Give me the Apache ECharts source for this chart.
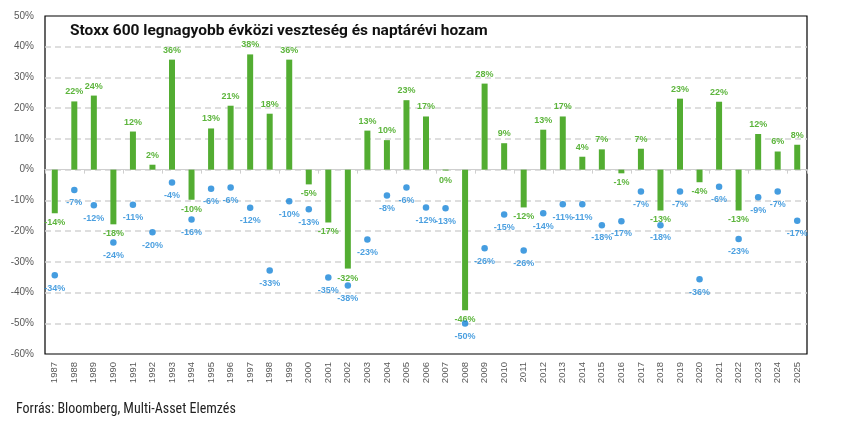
<!DOCTYPE html>
<html>
<head>
<meta charset="utf-8">
<script src="https://cdn.jsdelivr.net/npm/echarts@6/dist/echarts.min.js"></script>
<style>
html,body{margin:0;padding:0;background:#fff;}
#main{width:846px;height:427px;}
</style>
</head>
<body>
<div id="main"></div>
<script>
var years = ['1987','1988','1989','1990','1991','1992','1993','1994','1995','1996','1997','1998','1999','2000','2001','2002','2003','2004','2005','2006','2007','2008','2009','2010','2011','2012','2013','2014','2015','2016','2017','2018','2019','2020','2021','2022','2023','2024','2025'];
// calendar-year return (%)
var calendarReturn = [-14.2,22.2,24.1,-17.8,12.4,1.6,35.8,-9.8,13.4,20.8,37.5,18.2,35.8,-4.8,-17.2,-32.2,12.7,9.6,22.6,17.3,-0.3,-45.8,28.0,8.6,-12.3,13.0,17.3,4.2,6.6,-1.2,6.8,-13.3,23.1,-4.1,22.1,-13.3,11.6,5.9,8.1];
// largest intra-year drawdown (%)
var maxDrawdown = [-34.4,-6.6,-11.6,-23.7,-11.4,-20.4,-4.2,-16.2,-6.2,-5.8,-12.4,-32.8,-10.3,-12.9,-35.1,-37.7,-22.7,-8.4,-5.8,-12.3,-12.6,-50.1,-25.6,-14.6,-26.3,-14.2,-11.3,-11.3,-18.1,-16.8,-7.1,-18.1,-7.1,-35.7,-5.6,-22.6,-9.0,-7.1,-16.6];
var yTicks = {min:-60, max:50, interval:10};

var titleText = 'Stoxx 600 legnagyobb évközi veszteség és naptárévi hozam';
var sourceText = 'Forrás: Bloomberg, Multi-Asset Elemzés';

var chart = echarts.init(document.getElementById('main'), null, {renderer:'canvas'});
var pct = function(v){ return Math.round(v) + '%'; };

var barData = calendarReturn.map(function(v){
  return {value: v, label: {position: v >= 0 ? 'top' : 'bottom'}};
});

var option = {
  animation: false,
  backgroundColor: '#fff',
  textStyle: {fontFamily: 'Liberation Sans, Arial, sans-serif'},
  title: [{
    text: titleText,
    left: 65, top: 18, padding: 5,
    textStyle: {fontSize: 15.5, fontWeight: 'bold', color: '#111', fontFamily: 'Roboto, sans-serif'}
  },{
    text: sourceText,
    left: 11, top: 397, padding: 5,
    textStyle: {fontSize: 14, fontWeight: 'normal', color: '#222', fontFamily: 'Liberation Sans Narrow, Roboto Condensed, Liberation Sans, sans-serif'}
  }],
  grid: {left: 45, right: 39, top: 16, bottom: 73, show: true, borderColor: '#000', borderWidth: 1.2, containLabel: false},
  xAxis: [{
    type: 'category', data: years, position: 'bottom',
    axisLine: {onZero: true, lineStyle: {color: '#cfcfcf', width: 1.2}},
    axisTick: {show: true, alignWithLabel: false, length: 4, lineStyle: {color: '#cfcfcf'}},
    axisLabel: {show: false},
    splitLine: {show: false}
  },{
    type: 'category', data: years, position: 'bottom',
    axisLine: {show: false, onZero: false},
    axisTick: {show: false},
    axisLabel: {show: true, rotate: 90, fontSize: 9.5, color: '#595959', margin: 8, interval: 0,
      fontFamily: 'Liberation Sans Narrow, Liberation Sans, sans-serif'},
    splitLine: {show: false}
  }],
  yAxis: {
    type: 'value', min: yTicks.min, max: yTicks.max, interval: yTicks.interval,
    axisLine: {show: false}, axisTick: {show: false},
    axisLabel: {formatter: '{value}%', fontSize: 10, color: '#595959', margin: 11},
    splitLine: {show: true, showMinLine: false, showMaxLine: false, lineStyle: {color: '#d4d4d4', type: [6, 4], width: 1.5}}
  },
  series: [{
    type: 'bar', name: 'Naptárévi hozam', data: barData, barWidth: 6,
    xAxisIndex: 0,
    itemStyle: {color: '#53ad32'},
    label: {show: true, distance: 5, fontSize: 9, fontWeight: 'bold', color: '#5db53d',
      formatter: function(p){ return pct(p.value); }},
    z: 2
  },{
    type: 'scatter', name: 'Legnagyobb évközi veszteség', data: maxDrawdown,
    xAxisIndex: 0,
    symbol: 'circle', symbolSize: 6.5,
    itemStyle: {color: '#1684d8'},
    label: {show: true, position: 'bottom', distance: 5, fontSize: 9, fontWeight: 'bold', color: '#1f88d8',
      formatter: function(p){ return pct(p.value); }},
    z: 3
  }]
};
chart.setOption(option);
</script>
</body>
</html>
